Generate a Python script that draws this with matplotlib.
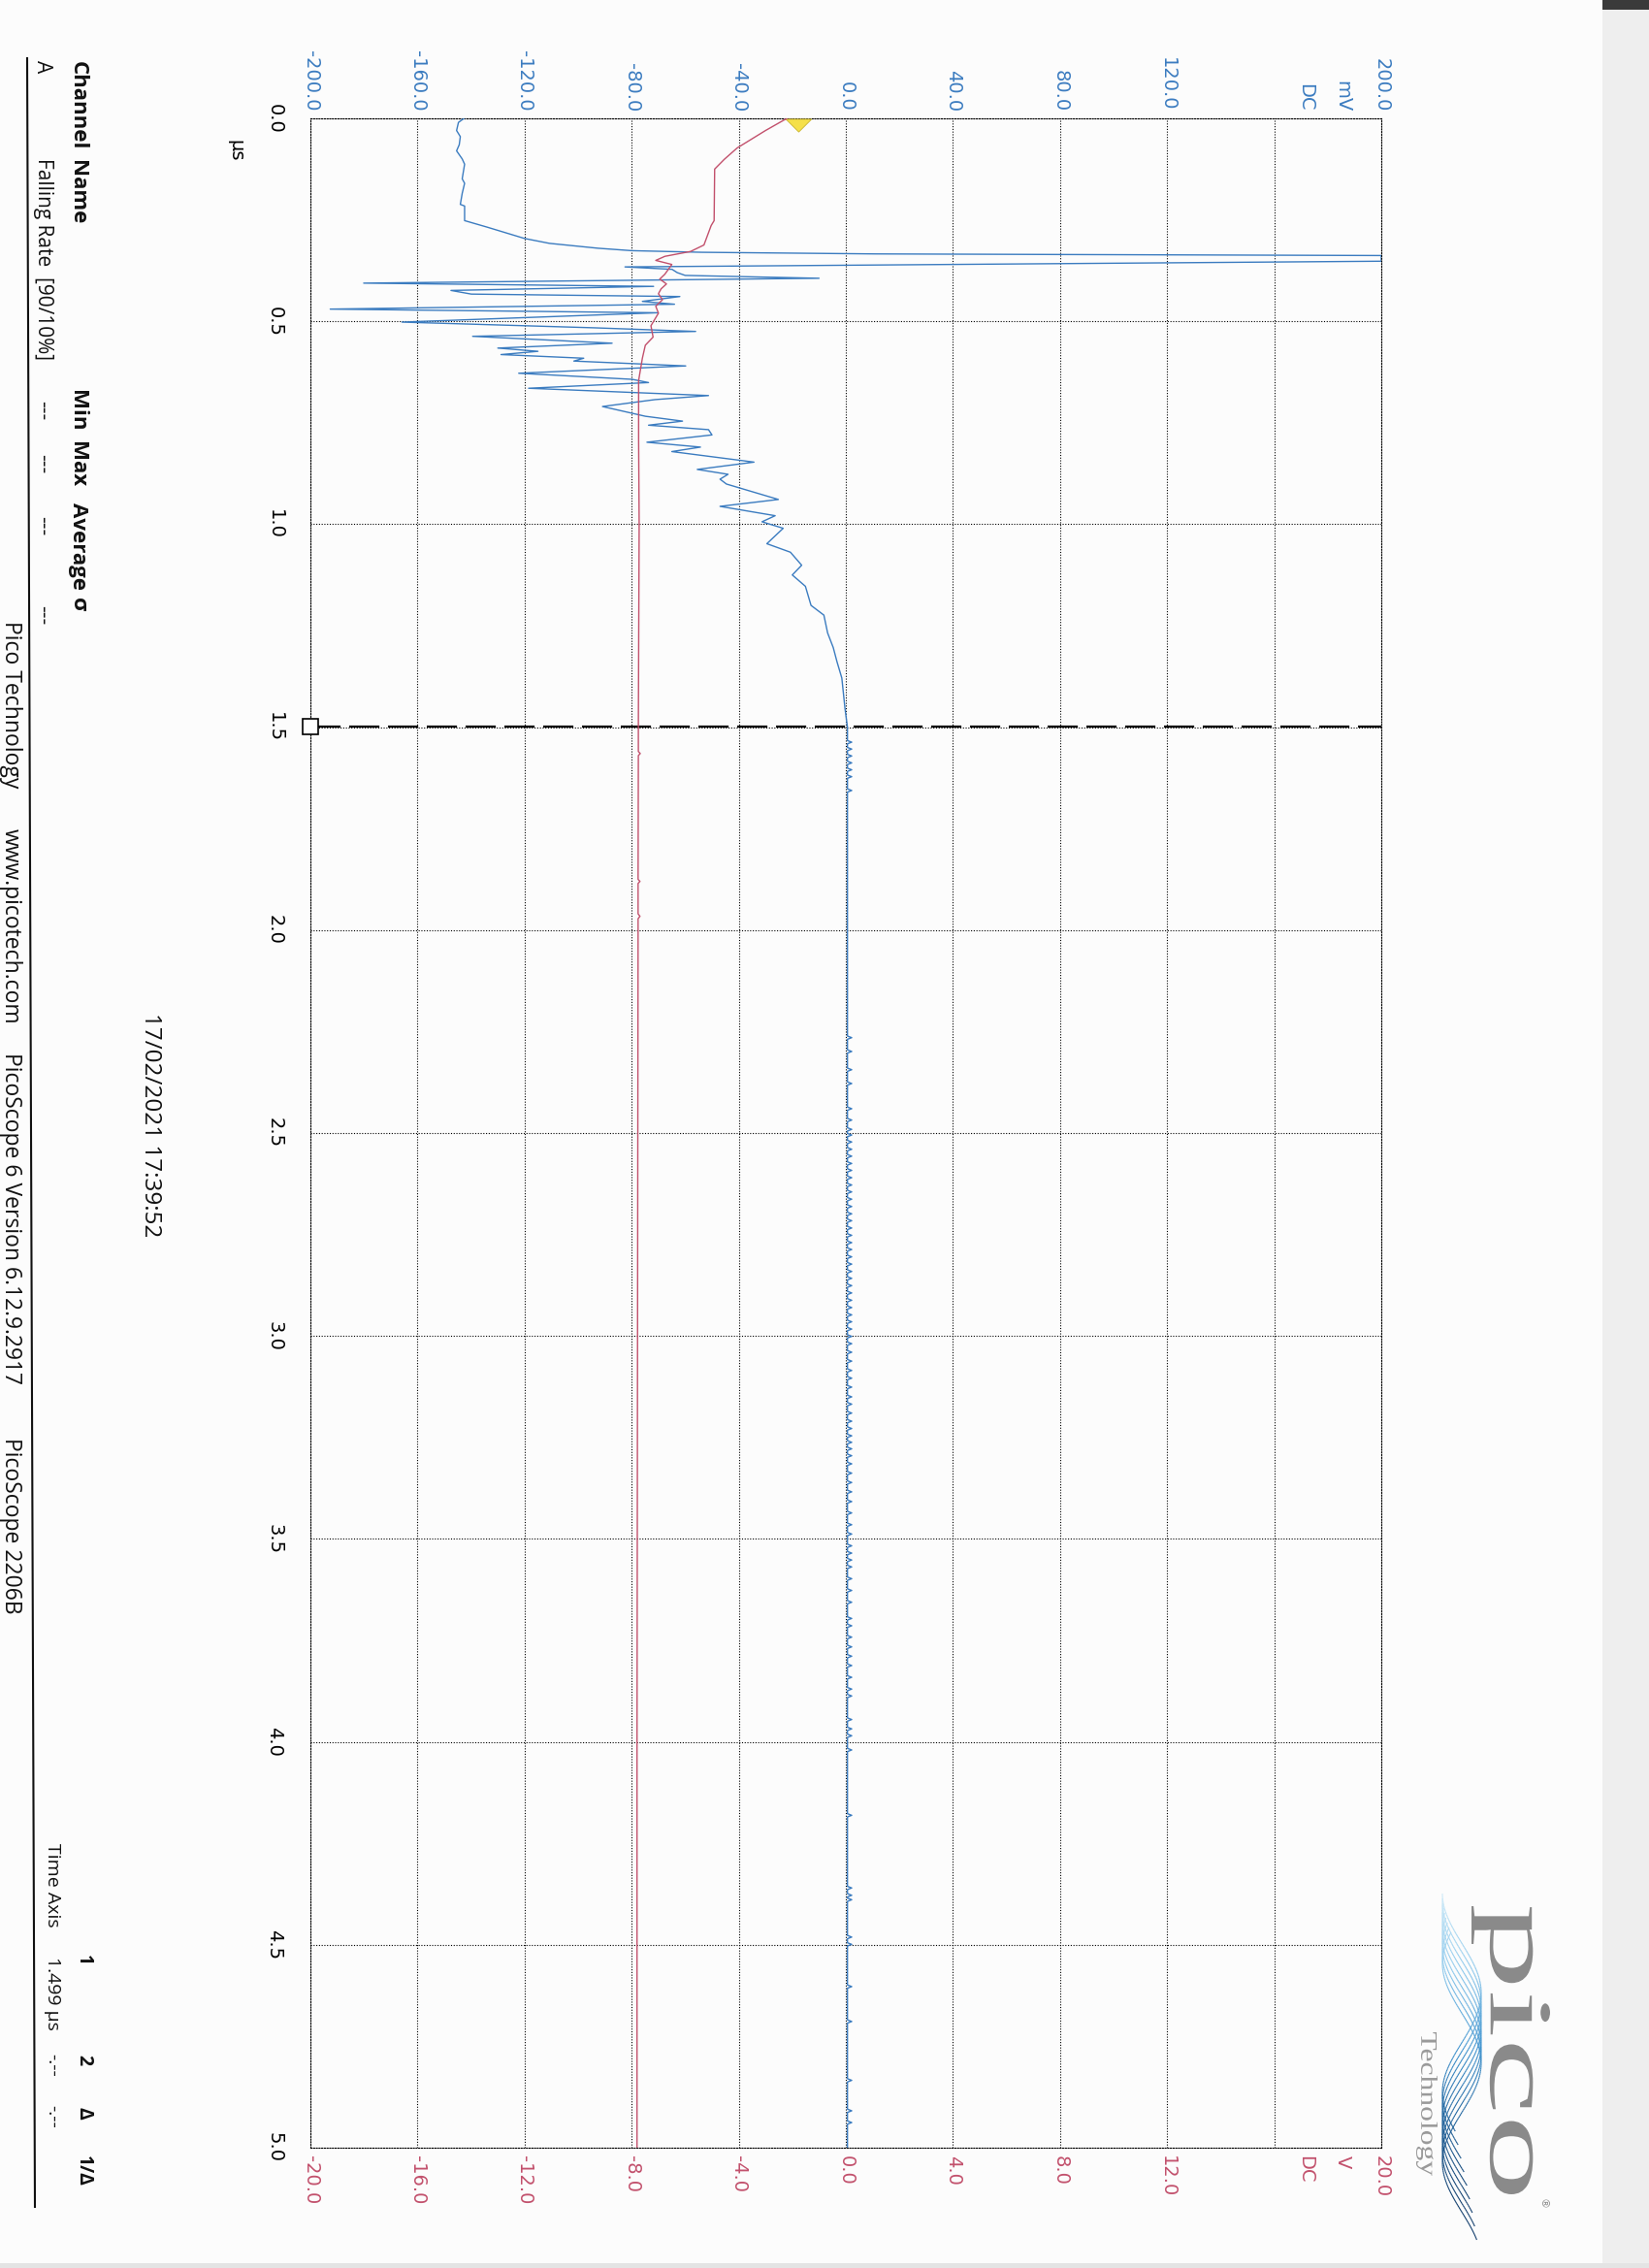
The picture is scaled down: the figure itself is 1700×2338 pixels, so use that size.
import numpy as np
import matplotlib
matplotlib.use("Agg")
import matplotlib.pyplot as plt
from matplotlib.textpath import TextPath
from matplotlib.patches import PathPatch, Rectangle
from matplotlib.font_manager import FontProperties
from matplotlib.lines import Line2D
from matplotlib.collections import LineCollection
from matplotlib.colors import LinearSegmentedColormap
import matplotlib.transforms as mtransforms

# ---- data (time in us, channel A in mV, channel B in V)
blue_t = [0.000, 0.010, 0.030, 0.045, 0.065, 0.080, 0.100, 0.113, 0.149, 0.160,
          0.185, 0.212, 0.216, 0.252, 0.268, 0.296, 0.308, 0.320, 0.326, 0.330,
          0.334, 0.338, 0.352, 0.366, 0.372, 0.380, 0.387, 0.394, 0.406, 0.414,
          0.424, 0.433, 0.439, 0.451, 0.458, 0.470, 0.479, 0.502, 0.516, 0.525,
          0.537, 0.554, 0.566, 0.574, 0.582, 0.591, 0.598, 0.610, 0.628, 0.643,
          0.651, 0.665, 0.683, 0.693, 0.710, 0.734, 0.746, 0.756, 0.767, 0.780,
          0.798, 0.810, 0.821, 0.847, 0.865, 0.877, 0.889, 0.901, 0.939, 0.956,
          0.979, 0.994, 1.010, 1.048, 1.069, 1.101, 1.125, 1.153, 1.200, 1.224,
          1.268, 1.304, 1.339, 1.379, 1.455, 1.500]
blue_mv = [-142.6, -144.7, -145.4, -144.0, -144.4, -145.4, -143.3, -142.4, -143.3, -142.4,
           -143.3, -144.0, -142.4, -142.4, -134.0, -120.0, -110.7, -92.6, -80.0, -53.8,
           11.0, 200.0, 200.0, -82.5, -64.9, -63.0, -60.0, -10.0, -180.1, -71.8,
           -147.5, -139.9, -62.0, -76.0, -64.0, -192.6, -70.4, -165.8, -94.3, -56.1,
           -139.4, -87.3, -130.0, -115.0, -128.8, -97.9, -101.6, -59.8, -122.2, -79.8,
           -73.7, -118.5, -51.3, -71.3, -90.9, -74.9, -61.0, -73.7, -51.3, -50.0,
           -74.3, -54.3, -65.0, -34.3, -55.5, -44.0, -47.0, -44.6, -25.2, -47.0,
           -26.4, -31.3, -23.4, -29.5, -20.7, -16.5, -20.0, -15.1, -13.0, -8.2,
           -6.8, -4.7, -3.3, -1.5, -0.3, 0.6]

# small glitches on channel A after the cursor
blip_t = [1.537, 1.554, 1.571, 1.588, 1.605, 1.622, 1.656,
          2.265, 2.299, 2.344, 2.378, 2.440, 2.468, 2.491,
          2.505, 2.522, 2.540, 2.557, 2.575, 2.592, 2.610, 2.628, 2.645, 2.663,
          2.681, 2.699, 2.716, 2.734, 2.752, 2.770, 2.787, 2.805, 2.823, 2.841,
          2.858, 2.876, 2.894, 2.912, 2.930, 2.948, 2.965, 2.983, 3.001, 3.019,
          3.040, 3.062, 3.085, 3.104, 3.126, 3.150, 3.168, 3.190, 3.210, 3.228,
          3.246, 3.262, 3.278, 3.295, 3.315, 3.338, 3.361, 3.384, 3.408, 3.436,
          3.465, 3.488, 3.517, 3.535, 3.552, 3.569, 3.598, 3.627, 3.656, 3.696,
          3.714, 3.742, 3.766, 3.789, 3.812, 3.841, 3.870, 3.887, 3.945, 3.968,
          3.985, 4.020, 4.181, 4.360, 4.378, 4.389, 4.481, 4.499, 4.603, 4.689,
          4.834, 4.909, 4.938]
blue_base_mv = 0.6
blip_mv = 2.2

red_t = [0.000, 0.030, 0.073, 0.101, 0.125, 0.252, 0.264, 0.312, 0.328, 0.340,
         0.350, 0.360, 0.384, 0.396, 0.408, 0.420, 0.432, 0.447, 0.463, 0.480,
         0.511, 0.539, 0.559, 0.591, 0.646, 0.790, 1.000, 1.500, 1.560, 1.565,
         1.570, 1.875, 1.880, 1.885, 1.960, 1.966, 1.972, 2.000, 3.000, 4.000, 5.000]
red_v = [-2.20, -3.00, -4.06, -4.54, -4.90, -4.92, -5.03, -5.30, -5.80, -6.76,
         -7.10, -6.50, -6.76, -6.95, -6.70, -6.90, -7.00, -6.85, -7.10, -7.00,
         -7.28, -7.20, -7.49, -7.60, -7.74, -7.74, -7.72, -7.75, -7.75, -7.68,
         -7.75, -7.76, -7.69, -7.76, -7.76, -7.69, -7.76, -7.76, -7.78, -7.80, -7.80]

mv_ticks = [-200, -160, -120, -80, -40, 0, 40, 80, 120, 200]
v_ticks = [-20, -16, -12, -8, -4, 0, 4, 8, 12, 20]
time_ticks = [0.0, 0.5, 1.0, 1.5, 2.0, 2.5, 3.0, 3.5, 4.0, 4.5, 5.0]
cursor_t = 1.499
trigger_mv = -17.6

BLUE = "#3b7cc0"
RED = "#c2506c"
W, H = 1700, 2338

# build the tail of channel A from the glitch list
tail_t, tail_mv = [], []
for bt in blip_t:
    tail_t += [bt - 0.004, bt, bt + 0.004]
    tail_mv += [blue_base_mv, blip_mv, blue_base_mv]
a_t = blue_t + tail_t + [5.0]
a_mv = blue_mv + tail_mv + [blue_base_mv]

fig = plt.figure(figsize=(W / 100, H / 100), dpi=100)
fig.patch.set_facecolor("#fcfcfc")


def fx(x):
    return x / W


def fy(y):
    return 1 - y / H


# plot area
L, R, T, B = 320, 1424, 122, 2214
ax = fig.add_axes([fx(L), fy(B), (R - L) / W, (B - T) / H])
ax.set_facecolor("none")
ax.set_xlim(-200, 200)
ax.set_ylim(5, 0)
ax.set_xticks(np.arange(-200, 201, 40))
ax.set_yticks(time_ticks)
ax.tick_params(length=0, labelbottom=False, labelleft=False)
ax.grid(True, color="black", linestyle=(0, (1, 1.5)), linewidth=0.8)
for sp in ax.spines.values():
    sp.set_linestyle((0, (1, 1.5)))
    sp.set_linewidth(0.8)

ax2 = ax.twiny()
ax2.set_xlim(-20, 20)
ax2.set_ylim(5, 0)
ax2.axis("off")

ax2.plot(red_v, red_t, color=RED, lw=1.0, zorder=3)
ax.plot(a_mv, a_t, color=BLUE, lw=1.0, zorder=4)

# cursor 1 and trigger marker
ax.axhline(cursor_t, color="black", lw=1.6, linestyle=(0, (14, 4)), zorder=5)
ax.plot([-200], [cursor_t], marker="s", ms=12, mfc="white", mec="black",
        mew=1.2, clip_on=False, zorder=6)
tri = [(-1, 0.5), (1, 0.5), (0, -0.5), (-1, 0.5)]
ax.plot([trigger_mv], [0.016], marker=tri, ms=19, mfc="#f5e04a", mec="#c9b530",
        mew=0.6, clip_on=False, zorder=6)

# scale labels
lab = dict(rotation=270, fontsize=14, family="DejaVu Sans")
for v in mv_ticks:
    ax.text(v, -0.017, f"{v:.1f}", color=BLUE, ha="center", va="bottom", **lab)
ax.text(185.5, -0.017, "mV", color=BLUE, ha="center", va="bottom", **lab)
ax.text(171.7, -0.017, "DC", color=BLUE, ha="center", va="bottom", **lab)
for v in v_ticks:
    ax2.text(v, 5.019, f"{v:.1f}", color=RED, ha="center", va="top", **lab)
ax2.text(18.55, 5.019, "V", color=RED, ha="center", va="top", **lab)
ax2.text(17.17, 5.019, "DC", color=RED, ha="center", va="top", **lab)
for t in time_ticks:
    ax.text(-213.4, t, f"{t:.1f}", color="black", ha="center", va="center",
            clip_on=False, **lab)
ax.text(-227.9, 0.079, "µs", color="black", ha="center", va="center", **lab)

# page text
txt = dict(rotation=270, ha="center", va="top", family="Open Sans", color="#111111")
for s, y in [("Channel", 63), ("Name", 165), ("Min", 402), ("Max", 455),
             ("Average", 518), ("σ", 616)]:
    fig.text(fx(80), fy(y), s, fontsize=16, fontweight="bold", **txt)
for s, y in [("A", 62), ("Falling Rate  [90/10%]", 163), ("---", 413),
             ("---", 468), ("---", 532), ("---", 624)]:
    fig.text(fx(44), fy(y), s, fontsize=15, **txt)
for s, y in [("Time Axis", 1900), ("1.499 µs", 2017), ("-.--", 2117), ("-.--", 2170)]:
    fig.text(fx(54), fy(y), s, fontsize=14, **txt)
for s, y in [("1", 2015), ("2", 2118), ("Δ", 2172), ("1/Δ", 2222)]:
    fig.text(fx(86), fy(y), s, fontsize=14, fontweight="bold", **txt)
for s, y in [("Pico Technology", 640), ("www.picotech.com", 854),
             ("PicoScope 6 Version 6.12.9.2917", 1085), ("PicoScope 2206B", 1482)]:
    fig.text(fx(11), fy(y), s, fontsize=16.5, **txt)
fig.text(fx(155), fy(1044), "17/02/2021 17:39:52", fontsize=17.5, **txt)
fig.add_artist(Line2D([fx(28), fx(36)], [fy(60), fy(2275)], color="#111111",
                      lw=1.5, transform=fig.transFigure))


# logo
def stretched_text(s, family, x0, x1, y0, y1, color):
    tp = TextPath((0, 0), s, size=100, prop=FontProperties(family=family))
    ext = tp.get_extents()
    sx = (y1 - y0) / ext.width
    sy = (x1 - x0) / ext.height
    tr = (mtransforms.Affine2D()
          .translate(-ext.x0, -ext.y0)
          .scale(sx, sy)
          .rotate_deg(-90)
          .translate(x0, H - y0)
          .scale(1 / 100.0))
    fig.add_artist(PathPatch(tp, transform=tr + fig.dpi_scale_trans,
                             facecolor=color, edgecolor="none"))


stretched_text("pico", "Liberation Serif", 1517, 1598, 1965, 2262, "#8a8a8a")
stretched_text("Technology", "Liberation Serif", 1460, 1482, 2095, 2243, "#9a9a9a")
fig.text(fx(1590), fy(2266), "®", fontsize=8, color="#8a8a8a", rotation=270,
         ha="center", va="top")

wave_cmap = LinearSegmentedColormap.from_list(
    "pico_wave", ["#cdeaf8", "#8cc8ec", "#3f93cf", "#1d5f98", "#133f6e"])
ss = np.linspace(0, 1, 160)
for k in range(9):
    ys = 1952 + k * 5 + ss * (245 + k * 9)
    ph = (ys - 1952 - k * 9) / 205.0
    xs = 1487 + 40 * (0.5 - 0.5 * np.cos(2 * np.pi * ph))
    pts = np.column_stack([fx(xs), fy(ys)])
    segs = np.stack([pts[:-1], pts[1:]], axis=1)
    cols = wave_cmap(np.clip((ys[:-1] - 1952) / 318.0, 0, 1))
    fig.add_artist(LineCollection(segs, colors=cols, linewidths=0.8,
                                  transform=fig.transFigure))

# scanned paper edges
fig.add_artist(Rectangle((fx(1652), 0), fx(48), 1, transform=fig.transFigure,
                         facecolor="#eeeeee", edgecolor="none"))
fig.add_artist(Rectangle((0, 0), 1, 5 / H, transform=fig.transFigure,
                         facecolor="#e4e4e4", edgecolor="none"))
fig.add_artist(Rectangle((fx(1652), fy(10)), fx(48), 10 / H,
                         transform=fig.transFigure, facecolor="#3a3a3a",
                         edgecolor="none"))

fig.savefig("out.png", dpi=100, facecolor=fig.get_facecolor())
